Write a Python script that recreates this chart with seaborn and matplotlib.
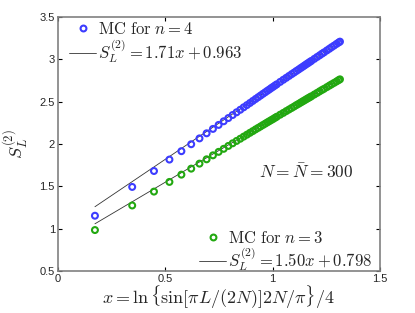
import matplotlib
matplotlib.use("Agg")
import matplotlib.pyplot as plt
import seaborn as sns
from matplotlib.lines import Line2D

# x = ln{sin[pi L/(2N)] 2N/pi}/4 (L = 2 ... 300)
x_vals = [0.1733, 0.3466, 0.4479, 0.5198, 0.5755, 0.6211, 0.6596, 0.6928, 0.7222, 0.7485,
          0.7722, 0.7939, 0.8138, 0.8322, 0.8493, 0.8653, 0.8803, 0.8944, 0.9077, 0.9204,
          0.9324, 0.9438, 0.9548, 0.9652, 0.9752, 0.9847, 0.9939, 1.0027, 1.0113, 1.0195,
          1.0350, 1.0496, 1.0632, 1.0761, 1.0882, 1.0996, 1.1104, 1.1207, 1.1305, 1.1398,
          1.1486, 1.1571, 1.1651, 1.1728, 1.1802, 1.1940, 1.2067, 1.2183, 1.2290, 1.2388,
          1.2521, 1.2638, 1.2740, 1.2855, 1.2969, 1.3064, 1.3131]

# MC results, n = 4
s_n4 = [1.153, 1.493, 1.681, 1.816, 1.915, 1.997, 2.066, 2.126, 2.178, 2.225,
        2.268, 2.306, 2.342, 2.374, 2.404, 2.433, 2.459, 2.484, 2.508, 2.531,
        2.552, 2.572, 2.592, 2.610, 2.628, 2.644, 2.661, 2.676, 2.691, 2.705,
        2.733, 2.758, 2.781, 2.803, 2.824, 2.843, 2.862, 2.879, 2.896, 2.912,
        2.927, 2.942, 2.955, 2.969, 2.981, 3.005, 3.027, 3.046, 3.065, 3.081,
        3.104, 3.124, 3.142, 3.161, 3.181, 3.197, 3.208]

# MC results, n = 3
s_n3 = [0.984, 1.274, 1.438, 1.552, 1.638, 1.709, 1.768, 1.819, 1.866, 1.907,
        1.943, 1.977, 2.008, 2.036, 2.062, 2.087, 2.110, 2.132, 2.152, 2.172,
        2.190, 2.207, 2.224, 2.240, 2.255, 2.269, 2.283, 2.296, 2.310, 2.322,
        2.346, 2.367, 2.388, 2.407, 2.425, 2.442, 2.459, 2.474, 2.489, 2.503,
        2.516, 2.529, 2.541, 2.552, 2.563, 2.584, 2.603, 2.621, 2.637, 2.651,
        2.671, 2.689, 2.704, 2.721, 2.738, 2.753, 2.763]

# linear fits from the legend
fit_n4 = (1.71, 0.963)
fit_n3 = (1.50, 0.798)
fit_range = [0.1733, 1.3131]

blue = "#3c3cff"
green = "#22a810"

sns.set_theme(style="white")
plt.rcParams["font.family"] = ["Liberation Sans", "DejaVu Sans"]
plt.rcParams["mathtext.fontset"] = "cm"

fig = plt.figure(figsize=(4.15, 3.13), dpi=100)
ax = fig.add_axes([0.139, 0.134, 0.777, 0.812])

# fitted lines
for (a, b) in [fit_n4, fit_n3]:
    sns.lineplot(x=fit_range, y=[a * v + b for v in fit_range], ax=ax,
                 color="#333333", lw=0.6, zorder=1)

# MC points
sns.scatterplot(x=x_vals, y=s_n4, ax=ax, marker="o", s=18, facecolor="none",
                edgecolor=blue, linewidth=1.5, zorder=3)
sns.scatterplot(x=x_vals, y=s_n3, ax=ax, marker="o", s=18, facecolor="none",
                edgecolor=green, linewidth=1.5, zorder=3)

ax.set_xlim(0, 1.5)
ax.set_ylim(0.5, 3.5)
ax.set_xticks([0, 0.5, 1, 1.5])
ax.set_xticklabels(["0", "0.5", "1", "1.5"])
ax.set_yticks([0.5, 1, 1.5, 2, 2.5, 3, 3.5])
ax.set_yticklabels(["0.5", "1", "1.5", "2", "2.5", "3", "3.5"])
ax.tick_params(direction="in", length=3, width=0.8, color="black",
               labelsize=8, pad=2, top=True, right=True, bottom=True, left=True)
for sp in ax.spines.values():
    sp.set_color("#808080")
    sp.set_linewidth(1.2)

ax.set_xlabel(r"$x=\ln\{\sin[\pi L/(2N)]2N/\pi\}/4$", fontsize=13, labelpad=0)
ax.set_ylabel(r"$S_L^{(2)}$", fontsize=13, labelpad=6)

ax.text(0.77, 0.39, r"$N=\bar{N}=300$", transform=ax.transAxes,
        fontsize=12.5, ha="center", va="center")

h4 = [Line2D([], [], ls="none", marker="o", mfc="none", mec=blue, mew=1.5, ms=4.2),
      Line2D([], [], color="#333333", lw=0.6)]
l4 = [r"$\mathrm{MC\ for\ }n=4$", r"$S_L^{(2)}=1.71x+0.963$"]
leg1 = ax.legend(h4, l4, loc="upper left", bbox_to_anchor=(0.0, 1.03), frameon=False,
                 fontsize=12, handlelength=1.6, handletextpad=0.1, labelspacing=0.0,
                 borderaxespad=0.3)
ax.add_artist(leg1)

h3 = [Line2D([], [], ls="none", marker="o", mfc="none", mec=green, mew=1.5, ms=4.2),
      Line2D([], [], color="#333333", lw=0.6)]
l3 = [r"$\mathrm{MC\ for\ }n=3$", r"$S_L^{(2)}=1.50x+0.798$"]
ax.legend(h3, l3, loc="lower right", bbox_to_anchor=(1.01, -0.055), frameon=False,
          fontsize=12, handlelength=1.6, handletextpad=0.1, labelspacing=0.0,
          borderaxespad=0.3)

fig.savefig("out.png", dpi=100)
